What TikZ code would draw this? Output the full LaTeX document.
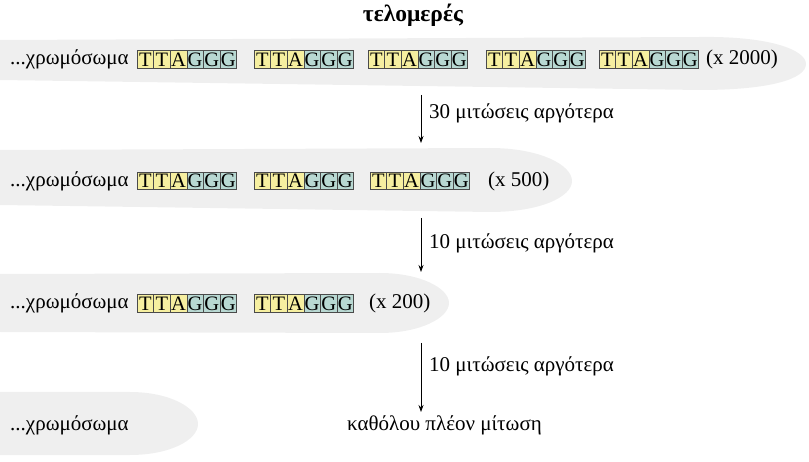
\documentclass[tikz,border=0pt]{standalone}
\usepackage{fontspec}
\setmainfont{Liberation Serif}
\usetikzlibrary{arrows.meta}
\definecolor{bandgray}{HTML}{EFEFEF}
\definecolor{tyel}{HTML}{F6EFA0}
\definecolor{gteal}{HTML}{B8D8D2}
\definecolor{boxline}{HTML}{4A4A4A}

% one telomere repeat: T T A (yellow) then G G G (teal)
\newcommand\telgroup[3]{%
  \foreach \L [count=\i] in {T,T,A}
    \node[tbase] (#1-\i) at ({#2+(\i-0.5)*16.6},#3) {\L};
  \foreach \L [count=\i from 4] in {G,G,G}
    \node[gbase] (#1-\i) at ({#2+(\i-0.5)*16.6},#3) {\L};
}

\begin{document}
\begin{tikzpicture}[x=1pt,y=-1pt,
  font=\fontsize{21}{25}\selectfont,
  base/.style={inner sep=0pt, minimum width=16.6pt, minimum height=17.5pt,
    draw=boxline, line width=0.6pt, font=\fontsize{20.5}{22}\selectfont},
  tbase/.style={base, fill=tyel},
  gbase/.style={base, fill=gteal},
  lbl/.style={anchor=west, inner sep=0pt},
  arr/.style={-{Stealth[length=7pt,width=5pt]}, line width=0.8pt}
]
\useasboundingbox (0,0) rectangle (809,462);

% chromosome bands
\fill[bandgray] (0,40) -- (700,37) .. controls (770,36) and (806,50) .. (806,64)
  .. controls (806,79) and (770,90) .. (700,90) -- (0,80) -- cycle;
\fill[bandgray] (0,150) -- (490,148) .. controls (540,148) and (572,165) .. (572,181)
  .. controls (572,197) and (540,212) .. (490,212) -- (0,205) -- cycle;
\fill[bandgray] (0,274) -- (380,273) .. controls (420,273) and (449,288) .. (449,303)
  .. controls (449,318) and (420,333) .. (380,333) -- (0,332) -- cycle;
\fill[bandgray] (0,392) -- (130,392) .. controls (170,392) and (198,408) .. (198,424)
  .. controls (198,440) and (170,455) .. (130,455) -- (0,455) -- cycle;

% title
\node[font=\fontsize{23.5}{27}\selectfont\bfseries] (title) at (413,15) {τελομερές};

% row 1
\node[lbl] (c1) at (10,59.5) {...χρωμόσωμα};
\telgroup{r1a}{137}{59.5}
\telgroup{r1b}{254}{59.5}
\telgroup{r1c}{368}{59.5}
\telgroup{r1d}{486}{59.5}
\telgroup{r1e}{599}{59.5}
\node[lbl] (n1) at (706,59.5) {(x 2000)};

% row 2
\node[lbl] (c2) at (10,181) {...χρωμόσωμα};
\telgroup{r2a}{137}{181}
\telgroup{r2b}{254}{181}
\telgroup{r2c}{370}{181}
\node[lbl] (n2) at (488,181) {(x 500)};

% row 3
\node[lbl] (c3) at (10,303.5) {...χρωμόσωμα};
\telgroup{r3a}{137}{303.5}
\telgroup{r3b}{254}{303.5}
\node[lbl] (n3) at (369,303.5) {(x 200)};

% row 4
\node[lbl] (c4) at (10,425) {...χρωμόσωμα};
\node[lbl] (stop) at (347,425) {καθόλου πλέον μίτωση};

% divisions between rows
\coordinate (a1s) at (421,95);  \coordinate (a1e) at (421,143);
\coordinate (a2s) at (421,218); \coordinate (a2e) at (421,272);
\coordinate (a3s) at (421,343); \coordinate (a3e) at (421,412);
\draw[arr] (a1s) -- (a1e);
\draw[arr] (a2s) -- (a2e);
\draw[arr] (a3s) -- (a3e);
\node[lbl] (l1) at (429,113) {30 μιτώσεις αργότερα};
\node[lbl] (l2) at (429,243) {10 μιτώσεις αργότερα};
\node[lbl] (l3) at (429,366) {10 μιτώσεις αργότερα};
\end{tikzpicture}
\end{document}
